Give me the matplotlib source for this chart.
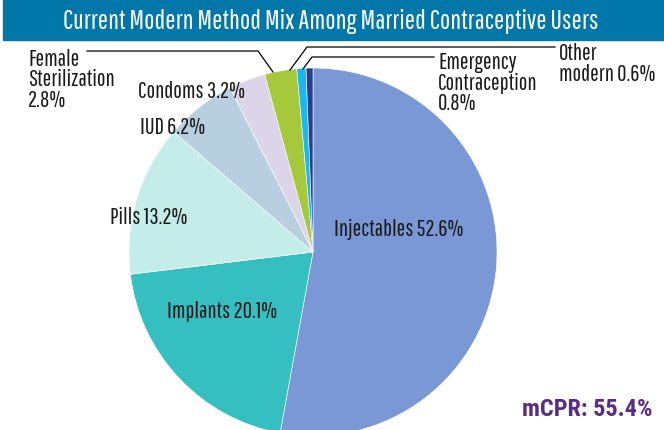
import matplotlib
matplotlib.use("Agg")
import matplotlib.pyplot as plt
from matplotlib.patches import Rectangle

plt.rcParams['font.family'] = ['Pathway Gothic One', 'DejaVu Sans']

methods = ["Injectables", "Implants", "Pills", "IUD", "Condoms",
           "Female Sterilization", "Emergency Contraception", "Other modern"]
shares = [52.6, 20.1, 13.2, 6.2, 3.2, 2.8, 0.8, 0.6]
colors = ["#7b98d6", "#36bfc1", "#c4ece8", "#b8cfdf", "#dcd5ea",
          "#a5c93a", "#1ab8ee", "#263f8f"]
mcpr = 55.4

W, H = 664, 431
fig = plt.figure(figsize=(W / 100, H / 100), dpi=100)
ax = fig.add_axes([0, 0, 1, 1])

# pie centre/radius in pixel units (y measured from the bottom)
cx, cy, r = 313, H - 253, 184
ax.pie(shares, colors=colors, startangle=90, counterclock=False,
       center=(cx, cy), radius=r, frame=True,
       wedgeprops=dict(edgecolor='white', linewidth=0.4))
ax.set_xlim(0, W)
ax.set_ylim(0, H)
ax.set_aspect('equal')
ax.axis('off')

# title bar
ax.add_patch(Rectangle((3, H - 41), W - 3, 41, color='#0077a8', zorder=5))
ax.text(331, H - 21, "Current Modern Method Mix Among Married Contraceptive Users",
        color='white', fontsize=19.5, ha='center', va='center', zorder=6)

fs = 16.5
def lab(x, y, s, ha='left'):
    ax.text(x, H - y, s, fontsize=fs, ha=ha, va='center', color='#1a1a1a',
            linespacing=0.95, zorder=4)

lab(399, 230, f"{methods[0]} {shares[0]}%", ha='center')
lab(222, 312, f"{methods[1]} {shares[1]}%", ha='center')
lab(110, 218, f"{methods[2]} {shares[2]}%")
lab(140, 128, f"{methods[3]} {shares[3]}%")
lab(138, 92, f"{methods[4]} {shares[4]}%")
lab(28, 80, f"Female\nSterilization\n{shares[5]}%")
lab(438, 83, f"Emergency\nContraception\n{shares[6]}%")
lab(559, 64, f"Other\nmodern {shares[7]}%")

# leader lines
lk = dict(color='black', lw=0.9, zorder=4)
ax.plot([87, 258, 273], [H - 52, H - 52, H - 73], **lk)
ax.plot([555, 307, 290], [H - 48, H - 48, H - 71], **lk)
ax.plot([434, 312, 303], [H - 58, H - 58, H - 70], **lk)

ax.text(652, H - 410, f"mCPR: {mcpr}%", fontsize=17.5, fontweight='bold',
        family=['Roboto Condensed', 'DejaVu Sans'],
        color='#5a2d82', ha='right', va='center')

fig.savefig("out.png", dpi=100)
